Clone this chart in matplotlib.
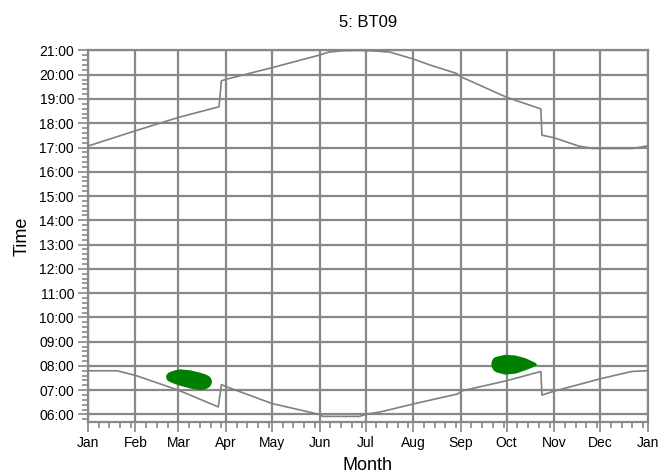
import numpy as np
import matplotlib
matplotlib.use("Agg")
import matplotlib.pyplot as plt
from matplotlib.ticker import FixedLocator, MultipleLocator, FuncFormatter

plt.rcParams['font.family'] = ['Liberation Sans', 'DejaVu Sans']

# month starts (day of year) and labels
month_days = [0, 31, 59, 90, 120, 151, 181, 212, 243, 273, 304, 334, 365]
month_labels = ['Jan', 'Feb', 'Mar', 'Apr', 'May', 'Jun', 'Jul',
                'Aug', 'Sep', 'Oct', 'Nov', 'Dec', 'Jan']

# sunset (hours), day of year
sunset_day = [0, 31, 59, 85.5, 87, 90, 120, 151, 157, 166, 175, 184, 191,
              197, 212, 223, 240, 243, 273, 295.3, 296, 304, 320, 329, 355, 364]
sunset_hr = [17.06, 17.69, 18.24, 18.68, 19.75, 19.81, 20.29, 20.81, 20.93, 20.99,
             21.0, 20.99, 20.96, 20.93, 20.65, 20.40, 20.06, 19.92, 19.07, 18.59,
             17.51, 17.40, 17.06, 16.96, 16.96, 17.06]

# sunrise (hours), day of year
sunrise_day = [0, 19, 31, 59, 85, 87, 90, 120, 151, 153, 177, 181, 192.5,
               212, 241.4, 243, 273, 295.3, 296, 304, 334, 354.4, 364]
sunrise_hr = [7.80, 7.80, 7.61, 7.00, 6.31, 7.23, 7.15, 6.45, 6.00, 5.92,
              5.92, 6.00, 6.13, 6.43, 6.85, 6.96, 7.39, 7.77, 6.80, 6.96,
              7.47, 7.77, 7.80]

# shadow flicker windows: spring
flick1_day = [50.6, 51.0, 52.0, 53.5, 56.5, 60, 66.5, 73, 76, 78.4, 79.4, 80.2, 80.6]
flick1_start = [7.57, 7.47, 7.40, 7.35, 7.27, 7.20, 7.09, 7.02, 7.05, 7.12, 7.18, 7.27, 7.37]
flick1_end = [7.57, 7.66, 7.73, 7.78, 7.84, 7.88, 7.84, 7.74, 7.68, 7.61, 7.55, 7.47, 7.37]

# shadow flicker windows: autumn
flick2_day = [262.7, 263.0, 264.0, 265.5, 267.5, 271.8, 278.4, 284.9, 289, 291.4, 292.5]
flick2_start = [8.10, 7.97, 7.85, 7.77, 7.73, 7.66, 7.70, 7.84, 7.94, 8.02, 8.08]
flick2_end = [8.10, 8.22, 8.33, 8.39, 8.42, 8.48, 8.45, 8.34, 8.22, 8.15, 8.08]

grid_col = '#888888'
line_col = '#808080'
green = '#008000'

fig = plt.figure(figsize=(6.61, 4.76), dpi=100)
ax = fig.add_axes([0.133, 0.113, 0.847, 0.781])

ax.fill_between(flick1_day, flick1_start, flick1_end, color=green, lw=0, zorder=3)
ax.fill_between(flick2_day, flick2_start, flick2_end, color=green, lw=0, zorder=3)
ax.plot(sunset_day, sunset_hr, color=line_col, lw=1.2, zorder=4)
ax.plot(sunrise_day, sunrise_hr, color=line_col, lw=1.2, zorder=4)

ax.set_xlim(0, 365)
ax.set_ylim(5.68, 21.0)

ax.xaxis.set_major_locator(FixedLocator(month_days))
ax.set_xticklabels(month_labels)
minor_x = []
for i in range(12):
    for d in (7, 14, 21, 28):
        if month_days[i] + d < month_days[i + 1]:
            minor_x.append(month_days[i] + d)
ax.xaxis.set_minor_locator(FixedLocator(minor_x))

ax.yaxis.set_major_locator(FixedLocator(range(6, 22)))
ax.yaxis.set_major_formatter(FuncFormatter(lambda v, p: f'{int(round(v)):02d}:00'))
ax.yaxis.set_minor_locator(MultipleLocator(0.2))

ax.grid(True, which='major', color=grid_col, lw=1.6, zorder=1)
ax.set_axisbelow(True)
for s in ax.spines.values():
    s.set_color(grid_col)
    s.set_linewidth(1.6)

ax.tick_params(which='major', length=7, width=1.2, color=grid_col, labelsize=10, pad=3)
ax.tick_params(which='minor', length=4, width=1.2, color=grid_col)

ax.set_xlabel('Month', fontsize=13, labelpad=5)
ax.set_ylabel('Time', fontsize=13, labelpad=6)
ax.set_title('5: BT09', fontsize=12, pad=17)

fig.savefig('out.png', dpi=100)
